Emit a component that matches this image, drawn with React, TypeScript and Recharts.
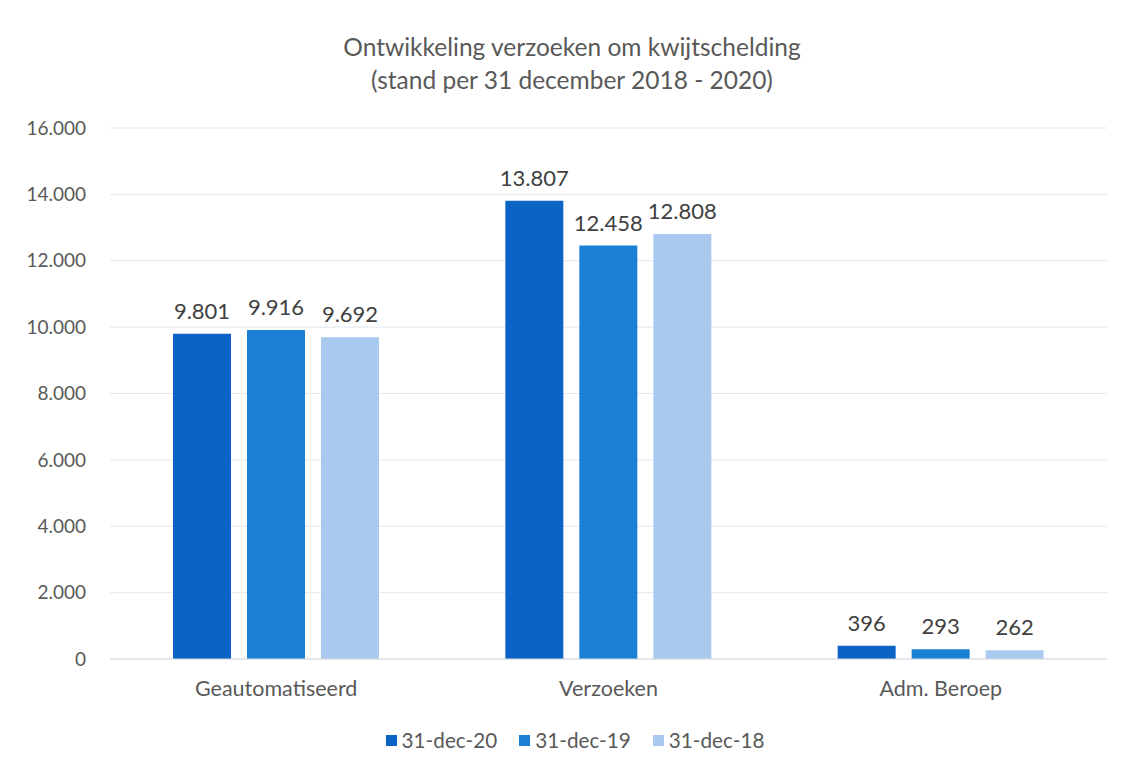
import React from "react";
import { BarChart, Bar, XAxis, YAxis, CartesianGrid, LabelList } from "recharts";

const categories = ["Geautomatiseerd", "Verzoeken", "Adm. Beroep"];
const dec20 = [9801, 13807, 396];
const dec19 = [9916, 12458, 293];
const dec18 = [9692, 12808, 262];
const seriesNames = ["31-dec-20", "31-dec-19", "31-dec-18"];
const yTicks = [0, 2000, 4000, 6000, 8000, 10000, 12000, 14000, 16000];
const colors = ["#0b63c6", "#1a80d6", "#a9c9ee"];

const data = categories.map((c, i) => ({ name: c, d20: dec20[i], d19: dec19[i], d18: dec18[i] }));

const fmt = (v: number) => String(v).replace(/\B(?=(\d{3})+(?!\d))/g, ".");

const FONT = "Lato, 'Open Sans', sans-serif";
const TXT = "#595959";

export default function App() {
  const keys = ["d20", "d19", "d18"];
  return (
    <div style={{ position: "absolute", left: 0, top: 0, width: 1125, height: 773, background: "#fff", fontFamily: FONT }}>
      <div style={{ position: "absolute", left: 0, width: 1144, top: 30, textAlign: "center", color: TXT, fontSize: 24.5, lineHeight: "33px" }}>
        <div>Ontwikkeling verzoeken om kwijtschelding</div>
        <div>(stand per 31 december 2018 - 2020)</div>
      </div>
      <BarChart
        width={1125}
        height={773}
        data={data}
        margin={{ top: 128, right: 18, left: 0, bottom: 74 }}
        barCategoryGap={63}
        barGap={16}
      >
        <CartesianGrid vertical={false} stroke="#dfe8f3" />
        <XAxis
          dataKey="name"
          height={40}
          tickLine={false}
          axisLine={{ stroke: "#d9d9d9" }}
          tick={{ fill: TXT, fontSize: 21.5, fontFamily: FONT }}
          tickMargin={16}
        />
        <YAxis
          width={110}
          domain={[0, 16000]}
          ticks={yTicks}
          tickFormatter={fmt}
          axisLine={false}
          tickLine={false}
          tickSize={0}
          tickMargin={24}
          tick={{ fill: TXT, fontSize: 19, fontFamily: FONT }}
        />
        {keys.map((k, i) => (
          <Bar key={k} dataKey={k} name={seriesNames[i]} fill={colors[i]} barSize={58} isAnimationActive={false}>
            <LabelList dataKey={k} position="top" offset={15} formatter={(v: any) => fmt(Number(v))} style={{ fill: "#404040", fontSize: 22, fontFamily: FONT }} />
          </Bar>
        ))}
      </BarChart>
      <div style={{ position: "absolute", left: 0, width: 1150, top: 728, display: "flex", justifyContent: "center", gap: 22, color: TXT, fontSize: 20.7 }}>
        {seriesNames.map((n, i) => (
          <div key={n} style={{ display: "flex", alignItems: "center" }}>
            <span style={{ display: "inline-block", width: 11, height: 11, background: colors[i], marginRight: 5 }} />
            <span>{n}</span>
          </div>
        ))}
      </div>
    </div>
  );
}
